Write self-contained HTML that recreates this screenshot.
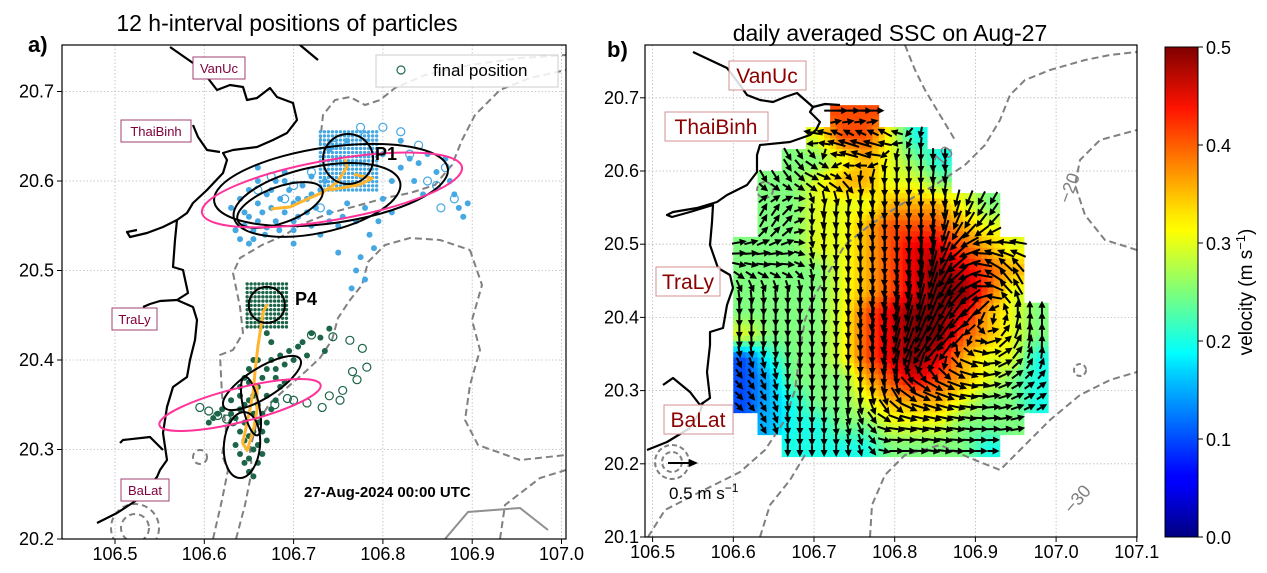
<!DOCTYPE html>
<html><head><meta charset="utf-8">
<style>
html,body{margin:0;padding:0;background:#fff;}
svg{display:block;font-family:"Liberation Sans","DejaVu Sans",sans-serif;}
</style></head>
<body>
<svg id="fig" width="1267" height="573" viewBox="0 0 1267 573" xmlns="http://www.w3.org/2000/svg">
<defs>
<clipPath id="clipA"><rect x="62" y="45" width="504" height="494"/></clipPath>
<clipPath id="clipB"><rect x="645" y="45" width="492" height="492"/></clipPath>
<linearGradient id="jet" x1="0" y1="1" x2="0" y2="0">
<stop offset="0" stop-color="#00007f"/><stop offset="0.11" stop-color="#0000ff"/>
<stop offset="0.125" stop-color="#0000ff"/><stop offset="0.34" stop-color="#00d5ff"/>
<stop offset="0.375" stop-color="#00ffff"/><stop offset="0.5" stop-color="#7dff7a"/>
<stop offset="0.625" stop-color="#ffff00"/><stop offset="0.66" stop-color="#ffe600"/>
<stop offset="0.875" stop-color="#ff1300"/><stop offset="1" stop-color="#7f0000"/>
</linearGradient>
</defs>
<rect width="1267" height="573" fill="#fff"/>

<text x="287" y="31" font-size="23" text-anchor="middle">12 h-interval positions of particles</text>
<text x="28" y="52" font-size="22" font-weight="bold">a)</text>
<text x="890" y="41" font-size="23" text-anchor="middle">daily averaged SSC on Aug-27</text>
<text x="607" y="57" font-size="22" font-weight="bold">b)</text>

<g id="gridA"></g>
<g id="gridB"></g>
<g id="plotA" clip-path="url(#clipA)"></g>
<g id="plotB" clip-path="url(#clipB)"></g>
<rect x="62" y="45" width="504" height="494" fill="none" stroke="#000" stroke-width="1.2"/>
<rect x="645" y="45" width="492" height="492" fill="none" stroke="#000" stroke-width="1.2"/>
<g id="ticksA"></g>
<g id="ticksB"></g>

<g id="legendA">
<rect x="376" y="55" width="182" height="32" fill="#fff" fill-opacity="0.85" stroke="#ccc"/>
<circle cx="401" cy="70" r="4" fill="none" stroke="#1e6b4e" stroke-width="1.2"/>
<text x="433" y="76" font-size="17">final position</text>
</g>
<text x="375" y="160" font-size="18" font-weight="bold">P1</text>
<text x="295" y="305" font-size="18" font-weight="bold">P4</text>
<text x="304" y="497" font-size="15" font-weight="bold">27-Aug-2024 00:00 UTC</text>

<g font-size="13" fill="#80003c">
<rect x="193" y="57" width="52" height="22" fill="#fff" stroke="#a04070"/>
<text x="219" y="73" text-anchor="middle" fill="#80003c">VanUc</text>
<rect x="121" y="120" width="70" height="22" fill="#fff" stroke="#a04070"/>
<text x="156" y="136" text-anchor="middle" fill="#80003c">ThaiBinh</text>
<rect x="112" y="308" width="45" height="22" fill="#fff" stroke="#a04070"/>
<text x="134.5" y="324" text-anchor="middle" fill="#80003c">TraLy</text>
<rect x="121" y="479" width="48" height="22" fill="#fff" stroke="#a04070"/>
<text x="145" y="495" text-anchor="middle" fill="#80003c">BaLat</text>
</g>

<g id="labelsB" font-size="21">
<rect x="729" y="61" width="77" height="29" fill="#fff" fill-opacity="0.85" stroke="#d09090"/>
<text x="767" y="83" text-anchor="middle" fill="#8b0000">VanUc</text>
<rect x="665" y="112" width="103" height="29" fill="#fff" fill-opacity="0.85" stroke="#d09090"/>
<text x="716" y="134" text-anchor="middle" fill="#8b0000">ThaiBinh</text>
<rect x="656" y="267" width="64" height="29" fill="#fff" fill-opacity="0.85" stroke="#d09090"/>
<text x="688" y="289" text-anchor="middle" fill="#8b0000">TraLy</text>
<rect x="664" y="405" width="69" height="29" fill="#fff" fill-opacity="0.85" stroke="#d09090"/>
<text x="698" y="427" text-anchor="middle" fill="#8b0000">BaLat</text>
</g>

<g>
<line x1="668" y1="463" x2="690" y2="463" stroke="#000" stroke-width="2"/>
<polygon points="698,463 689,459 689,467" fill="#000"/>
<text x="669" y="499" font-size="17">0.5 m s<tspan dy="-7" font-size="12">−1</tspan></text>
</g>

<g>
<rect x="1165" y="47" width="33" height="490" fill="url(#jet)" stroke="#000" stroke-width="1"/>
<g id="cbTicks"></g>
<text transform="translate(1252,292) rotate(-90)" font-size="19" text-anchor="middle">velocity (m s<tspan dy="-7" font-size="13">−1</tspan><tspan dy="7">)</tspan></text>
</g>
</svg>
<script>
const NS='http://www.w3.org/2000/svg';
const N=null;
// ---------- axis tick values ----------
const xTicksA=[106.5,106.6,106.7,106.8,106.9,107.0];
const yTicksA=[20.2,20.3,20.4,20.5,20.6,20.7];
const xTicksB=[106.5,106.6,106.7,106.8,106.9,107.0,107.1];
const yTicksB=[20.1,20.2,20.3,20.4,20.5,20.6,20.7];
const cbTicks=[0.0,0.1,0.2,0.3,0.4,0.5];
// ---------- panel b field data ----------
const fieldLon=[106.615,106.645,106.675,106.705,106.735,106.765,106.795,106.825,106.855,106.885,106.915,106.945,106.975,107.005];
const fieldLat=[20.675,20.645,20.615,20.585,20.555,20.525,20.495,20.465,20.435,20.405,20.375,20.345,20.315,20.285,20.255,20.225];
// speed codes: digit d => 0.05*d m/s, A => 0.5, '.' => no data
const speedRows=[
"....88........",
"...68864......",
"..5567654.....",
".55677665.....",
".5566677765...",
".5566788876...",
"555667899876..",
"55556789A987..",
"55556789AA86..",
"5555689AA9765.",
"6555689AA8765.",
"2455689A97664.",
"2355578987654.",
"2345567776554.",
".34455666555..",
"..444455554..."];
// current direction (degrees, 0=east, 90=north)
const dirRows=[
[N,N,N,N,0,0,N,N,N,N,N,N,N,N],
[N,N,N,170,160,165,150,-100,N,N,N,N,N,N],
[N,N,-60,-30,170,160,-90,-90,-90,N,N,N,N,N],
[N,-60,-50,-20,-20,-90,-90,-90,-100,N,N,N,N,N],
[N,60,40,-100,-90,-100,-90,-90,-90,-110,-120,N,N,N],
[N,60,45,-100,-95,-95,-90,-90,-100,-120,-135,N,N,N],
[10,15,10,-95,-90,-95,-90,-92,-100,-150,170,170,N,N],
[-20,-10,-10,-90,-95,-90,-92,-95,-110,-150,150,120,N,N],
[-80,-85,-90,-90,-92,-95,-95,-100,-110,-140,170,120,N,N],
[-90,-90,-90,-90,-92,-95,-100,-105,-115,-130,-120,80,90,N],
[-90,-90,-90,-90,-92,-95,-100,-110,-125,-150,10,60,90,N],
[-70,-80,-90,-90,-92,-90,-100,-120,-140,-30,-10,40,80,N],
[-50,-70,-90,-90,-90,-90,-100,-40,-30,-20,10,30,40,N],
[-45,-60,-90,-90,-90,-80,-60,-20,-20,-10,0,20,30,N],
[N,-60,-90,-90,-80,-60,-10,-10,-10,-10,0,10,N,N],
[N,N,-90,-90,-90,-70,0,0,-10,0,0,N,N,N]];
// ---------- panel a particle data (lon, lat) ----------
const p1FinalLon=[106.635,106.64,106.645,106.65,106.655,106.66,106.665,106.67,106.675,106.68,106.685,106.69,106.695,106.70,106.705,106.71,106.715,106.72,106.725,106.73,106.64,106.65,106.66,106.67,106.68,106.69,106.70,106.72,106.74,106.76,106.78,106.80,106.795,106.785,106.79,106.775,106.77,106.78,106.765,106.81,106.82,106.83,106.84,106.85,106.86,106.87,106.875,106.88,106.885,106.89,106.895,106.80,106.82,106.76,106.74,106.63,106.655,106.70,106.73,106.75,106.81,106.66,106.75,106.835,106.845,106.645,106.66,106.675,106.69,106.705,106.72,106.735,106.65,106.668,106.684,106.70,106.715,106.74,106.755,106.77];
const p1FinalLat=[20.545,20.535,20.55,20.56,20.545,20.555,20.565,20.548,20.57,20.555,20.58,20.565,20.59,20.575,20.56,20.595,20.58,20.605,20.57,20.59,20.58,20.59,20.60,20.585,20.6,20.61,20.545,20.55,20.565,20.575,20.57,20.58,20.555,20.54,20.525,20.515,20.50,20.49,20.48,20.60,20.615,20.625,20.62,20.63,20.61,20.625,20.60,20.585,20.57,20.56,20.575,20.63,20.645,20.645,20.635,20.57,20.535,20.53,20.54,20.55,20.565,20.615,20.52,20.60,20.585,20.565,20.575,20.59,20.6,20.58,20.585,20.6,20.53,20.54,20.545,20.555,20.565,20.555,20.56,20.555];
const p1OpenLon=[106.66,106.675,106.69,106.70,106.72,106.745,106.775,106.80,106.83,106.85,106.86,106.87,106.84,106.82,106.865,106.88,106.78,106.73];
const p1OpenLat=[20.59,20.605,20.58,20.595,20.61,20.64,20.66,20.66,20.63,20.60,20.595,20.615,20.64,20.655,20.57,20.58,20.65,20.57];
const p4FinalLon=[106.63,106.635,106.64,106.645,106.65,106.655,106.66,106.665,106.67,106.675,106.68,106.685,106.69,106.695,106.70,106.705,106.71,106.715,106.72,106.73,106.735,106.74,106.64,106.645,106.65,106.655,106.66,106.665,106.67,106.655,106.65,106.645,106.64,106.635,106.645,106.66,106.665,106.67,106.675,106.68,106.685,106.69,106.66,106.67,106.68,106.62,106.615,106.61,106.605,106.63,106.67,106.675,106.655,106.66,106.65,106.655,106.64,106.65,106.66,106.645,106.655,106.665,106.64,106.65];
const p4FinalLat=[20.34,20.335,20.345,20.35,20.355,20.36,20.37,20.38,20.39,20.40,20.39,20.405,20.395,20.41,20.40,20.415,20.42,20.405,20.43,20.425,20.41,20.435,20.37,20.38,20.39,20.34,20.33,20.32,20.31,20.30,20.29,20.285,20.295,20.305,20.31,20.285,20.295,20.33,20.345,20.355,20.37,20.375,20.35,20.36,20.38,20.345,20.34,20.335,20.33,20.355,20.43,20.42,20.40,20.40,20.275,20.27,20.32,20.315,20.305,20.33,20.32,20.34,20.36,20.375];
const p4OpenLon=[106.595,106.605,106.615,106.625,106.632,106.679,106.693,106.715,106.732,106.752,106.755,106.771,106.766,106.782,106.777,106.763,106.744,106.72,106.74,106.70];
const p4OpenLat=[20.347,20.343,20.338,20.334,20.331,20.35,20.357,20.352,20.347,20.355,20.366,20.378,20.387,20.392,20.413,20.422,20.426,20.428,20.36,20.355];
// trajectories
const p1TrackLon=[106.676,106.696,106.718,106.732,106.741,106.749,106.760,106.758];
const p1TrackLat=[20.569,20.571,20.581,20.587,20.593,20.599,20.616,20.623];
const p1BranchLon=[106.741,106.774,106.788,106.769];
const p1BranchLat=[20.590,20.596,20.603,20.607];
const p4TrackLon=[106.670,106.666,106.660,106.657,106.655,106.651,106.643,106.648,106.655,106.659,106.659,106.653];
const p4TrackLat=[20.461,20.454,20.415,20.389,20.366,20.344,20.307,20.299,20.322,20.344,20.370,20.374];
// dispersion ellipses
const ellLon=[106.761,106.6848,106.7262,106.7419,106.743,106.670,106.6646,106.6523,106.6422,106.640];
const ellLat=[20.6246,20.5732,20.5788,20.5955,20.590,20.4615,20.3743,20.3486,20.305,20.3497];
const ellA=[0.028,0.0504,0.0952,0.1321,0.1478,0.0202,0.0504,0.0336,0.037,0.093];
const ellB=[0.028,0.0202,0.037,0.0426,0.0336,0.0202,0.0168,0.009,0.0202,0.019];
const ellRot=[0,-20,-12,-8,-10,0,-32,78,95,-14];
const ellKind=['black','black','black','black','pink','black','black','black','black','pink'];

// ---------- scales ----------
const xA=lon=>115+(lon-106.5)*893;
const yA=lat=>539-(lat-20.2)*895;
const xB=lon=>652.6+(lon-106.5)*807;
const yB=lat=>537-(lat-20.1)*732;

function mk(tag,attrs,parent){const e=document.createElementNS(NS,tag);for(const k in attrs)e.setAttribute(k,attrs[k]);parent.appendChild(e);return e;}
function jet(t){t=Math.max(0,Math.min(1,t));const c=v=>Math.round(255*Math.max(0,Math.min(1,v)));
 return `rgb(${c(1.5-Math.abs(4*t-3))},${c(1.5-Math.abs(4*t-2))},${c(1.5-Math.abs(4*t-1))})`;}
function decode(ch){if(ch==='.')return null;if(ch==='A')return 0.5;return 0.05*parseInt(ch);}

// ---------- gridlines & ticks ----------
const gA=document.getElementById('gridA'),gB=document.getElementById('gridB');
const tA=document.getElementById('ticksA'),tB=document.getElementById('ticksB');
xTicksA.forEach(v=>{const x=xA(v);
 let l=mk('line',{x1:x,x2:x,y1:45,y2:539,stroke:'#bbb','stroke-width':0.8,'stroke-dasharray':'1.5,2'},gA);
 
 let k=mk('line',{x1:x,x2:x,y1:539,y2:544,stroke:'#000'},tA);
 
 let t=mk('text',{x:x,y:560,'font-size':18,'text-anchor':'middle'},tA);t.textContent=v.toFixed(1);
 });
yTicksA.forEach(v=>{const y=yA(v);
 let l=mk('line',{x1:62,x2:566,y1:y,y2:y,stroke:'#bbb','stroke-width':0.8,'stroke-dasharray':'1.5,2'},gA);
 
 let k=mk('line',{x1:57,x2:62,y1:y,y2:y,stroke:'#000'},tA);
 
 let t=mk('text',{x:54,y:y+6,'font-size':18,'text-anchor':'end'},tA);t.textContent=v.toFixed(1);
 });
xTicksB.forEach(v=>{const x=xB(v);
 let l=mk('line',{x1:x,x2:x,y1:45,y2:537,stroke:'#bbb','stroke-width':0.8,'stroke-dasharray':'1.5,2'},gB);
 
 let k=mk('line',{x1:x,x2:x,y1:537,y2:542,stroke:'#000'},tB);
 
 let t=mk('text',{x:x,y:558,'font-size':18,'text-anchor':'middle'},tB);t.textContent=v.toFixed(1);
 });
yTicksB.forEach(v=>{const y=yB(v);
 let l=mk('line',{x1:645,x2:1137,y1:y,y2:y,stroke:'#bbb','stroke-width':0.8,'stroke-dasharray':'1.5,2'},gB);
 
 let k=mk('line',{x1:640,x2:645,y1:y,y2:y,stroke:'#000'},tB);
 
 let t=mk('text',{x:639,y:y+6,'font-size':18,'text-anchor':'end'},tB);t.textContent=v.toFixed(1);
 });
const cbG=document.getElementById('cbTicks');
cbTicks.forEach(v=>{const y=537-(v/0.5)*490;
 let k=mk('line',{x1:1198,x2:1203,y1:y,y2:y,stroke:'#000'},cbG);
 
 let t=mk('text',{x:1206,y:y+7,'font-size':18},cbG);t.textContent=v.toFixed(1);
 });

// ---------- geography (decorative traces, panel pixel space) ----------
const coastA=[
[[170,47],[193,63],[207,77],[217,90],[230,85],[243,87],[247,100],[257,98],[270,88],[277,97],[293,103],[297,120],[287,133],[273,140],[257,147],[233,150],[223,153],[227,160],[223,173],[207,190],[193,203],[187,213],[177,220],[175,240],[173,267],[183,270],[188,293],[177,300],[193,307],[197,320],[195,340],[190,360],[187,377],[173,387],[167,407],[163,433],[167,460],[160,470],[157,477],[137,500],[117,513],[97,523]],
[[177,220],[163,227],[147,233],[130,237],[127,232],[137,230]],
[[177,300],[160,301],[150,304],[143,307]],
[[163,450],[150,437],[123,440],[120,443]],
[[193,125],[198,137],[207,150],[220,152]],
[[300,45],[312,55],[318,60]]];
const coastB=[
[[693,52],[710,60],[727,68],[740,85],[747,95],[760,100],[773,102],[785,97],[797,93],[805,100],[813,107],[825,104],[840,105]],
[[813,107],[810,112],[820,122],[816,130],[810,135],[790,142],[760,145],[757,155],[757,172],[747,185],[727,195],[717,202],[697,208],[673,212],[667,215],[672,217],[690,212],[713,205],[712,222],[710,245],[718,268],[730,275],[733,288],[727,305],[723,328],[710,332],[710,345],[707,372],[710,398],[700,405]],
[[700,405],[690,392],[673,378],[663,385]],
[[703,402],[700,412],[690,428],[667,442],[647,450]]];
const pA=document.getElementById('plotA'),pB=document.getElementById('plotB');
function drawPath(parent,pts,attrs,name){const d='M'+pts.map(p=>p[0].toFixed(1)+','+p[1].toFixed(1)).join(' L');
 const e=mk('path',Object.assign({d:d,fill:'none'},attrs),parent);
 return e;}

const contA=[
[[213,539],[222,500],[228,470],[222,455],[226,430],[222,395],[220,355],[233,350],[243,333],[240,307],[233,273],[240,258],[262,245],[285,235],[300,225],[330,213],[360,205],[385,198],[410,193],[435,185],[452,165],[462,140],[475,115],[500,90],[530,78],[566,70]],
[[236,539],[245,505],[252,470],[250,450],[256,425],[270,403],[290,385],[305,372],[320,358],[332,340],[338,318],[350,300],[362,285],[368,262],[385,245],[410,238],[440,240],[470,250]],
[[470,250],[482,285],[472,320],[480,350],[470,385],[465,420],[478,445],[520,460],[566,455]],
[[320,143],[323,115],[335,100],[350,97],[365,105],[380,100],[395,88],[425,75],[470,65],[520,58],[566,55]],
[[500,539],[505,505],[540,478],[566,470]]];
contA.forEach(c=>drawPath(pA,c,{stroke:'#808080','stroke-width':2,'stroke-dasharray':'7,4'},'depth-contour'));
drawPath(pA,[[445,539],[468,512],[520,508],[548,530]],{stroke:'#909090','stroke-width':2},'depth-contour-solid');
[[135,528,14],[135,528,24],[200,457,7]].forEach(c=>{const e=mk('circle',{cx:c[0],cy:c[1],r:c[2],fill:'none',stroke:'#808080','stroke-width':2,'stroke-dasharray':'6,4'},pA);
 });
coastA.forEach(tr=>drawPath(pA,tr,{stroke:'#000','stroke-width':2.2,'stroke-linejoin':'round'},'coastline'));

function seedGrid(lon0,lon1,lat0,lat1,n,m,color,name){
 for(let i=0;i<n;i++)for(let j=0;j<m;j++){
  const lon=lon0+(lon1-lon0)*i/(n-1),lat=lat0+(lat1-lat0)*j/(m-1);
  const c=mk('circle',{cx:xA(lon),cy:yA(lat),r:1.7,fill:color},pA);
  }}
const BLUE='#45a8e3',GREEN='#1c6548',ORANGE='#ffb52e';
seedGrid(106.730,106.793,20.590,20.655,15,15,BLUE,'p1-seed-particle');
seedGrid(106.648,106.692,20.437,20.485,11,11,GREEN,'p4-seed-particle');
p1FinalLon.forEach((lon,i)=>{const c=mk('circle',{cx:xA(lon),cy:yA(p1FinalLat[i]),r:3,fill:BLUE},pA);
 });
p1OpenLon.forEach((lon,i)=>{const c=mk('circle',{cx:xA(lon),cy:yA(p1OpenLat[i]),r:4,fill:'none',stroke:BLUE,'stroke-width':1.2},pA);
 });
p4FinalLon.forEach((lon,i)=>{const c=mk('circle',{cx:xA(lon),cy:yA(p4FinalLat[i]),r:3,fill:GREEN},pA);
 });
p4OpenLon.forEach((lon,i)=>{const c=mk('circle',{cx:xA(lon),cy:yA(p4OpenLat[i]),r:4,fill:'none',stroke:GREEN,'stroke-width':1.2},pA);
 });
function track(lons,lats,name){drawPath(pA,lons.map((l,i)=>[xA(l),yA(lats[i])]),{stroke:ORANGE,'stroke-width':3,'stroke-linejoin':'round','stroke-linecap':'round'},name);}
track(p1TrackLon,p1TrackLat,'p1-centroid-track');
track(p1BranchLon,p1BranchLat,'p1-centroid-track-branch');
track(p4TrackLon,p4TrackLat,'p4-centroid-track');
ellLon.forEach((lon,i)=>{const cx=xA(lon),cy=yA(ellLat[i]);
 const e=mk('ellipse',{cx:cx,cy:cy,rx:ellA[i]*893,ry:ellB[i]*893,transform:`rotate(${ellRot[i]} ${cx} ${cy})`,fill:'none',
  stroke:ellKind[i]==='pink'?'#ff3399':'#000','stroke-width':2},pA);
 
 });

// ---------- panel b field ----------
const NI=fieldLon.length,NJ=fieldLat.length;
const S=speedRows.map(r=>r.split('').map(decode));
const U=S.map((r,j)=>r.map((s,i)=>(s===null||dirRows[j][i]===null)?null:s*Math.cos(dirRows[j][i]*Math.PI/180)));
const V=S.map((r,j)=>r.map((s,i)=>(s===null||dirRows[j][i]===null)?null:s*Math.sin(dirRows[j][i]*Math.PI/180)));
const dLon=fieldLon[1]-fieldLon[0],dLat=fieldLat[0]-fieldLat[1];
function interp(G,lon,lat){
 const fi=(lon-fieldLon[0])/dLon,fj=(fieldLat[0]-lat)/dLat;
 const i0=Math.floor(fi),j0=Math.floor(fj),ti=fi-i0,tj=fj-j0;
 let sum=0,w=0;
 [[0,0],[1,0],[0,1],[1,1]].forEach(o=>{const i=i0+o[0],j=j0+o[1];
  if(i<0||j<0||i>=NI||j>=NJ)return;const v=G[j][i];if(v===null)return;
  const ww=(o[0]?ti:1-ti)*(o[1]?tj:1-tj)+1e-6;sum+=v*ww;w+=ww;});
 return w>0?sum/w:null;}
const SUB=4,cw=dLon*807,chh=dLat*732;
for(let j=0;j<NJ;j++)for(let i=0;i<NI;i++){if(S[j][i]===null)continue;
 for(let a=0;a<SUB;a++)for(let b=0;b<SUB;b++){
  const lon=fieldLon[i]-dLon/2+dLon*(a+0.5)/SUB,lat=fieldLat[j]+dLat/2-dLat*(b+0.5)/SUB;
  const s=interp(S,lon,lat);
  const r=mk('rect',{x:xB(lon)-cw/SUB/2,y:yB(lat)-chh/SUB/2,width:cw/SUB+0.6,height:chh/SUB+0.6,fill:jet(s/0.5)},pB);
  
  }}
const contB=[
[[648,537],[665,510],[700,492],[740,472],[765,450],[785,420],[795,390],[800,350],[805,320],[815,295],[830,270],[845,245],[870,225],[900,205],[935,185],[965,165],[985,145],[1000,120],[1010,95],[1025,80],[1050,70],[1085,60],[1110,55],[1137,52]],
[[870,537],[872,505],[885,475],[905,455],[940,445],[970,458],[1000,470],[1020,450],[1050,420],[1080,395],[1110,380],[1137,372]],
[[1137,250],[1105,240],[1085,215],[1075,185],[1080,160],[1100,140],[1137,130]],
[[905,45],[915,70],[925,90],[940,115],[955,140]],
[[760,537],[770,505],[790,480],[805,455]]];
contB.forEach(c=>drawPath(pB,c,{stroke:'#808080','stroke-width':2,'stroke-dasharray':'7,4'},'depth-contour'));
[[1080,370,6],[765,190,8],[672,462,10],[672,462,17]].forEach(c=>{const e=mk('circle',{cx:c[0],cy:c[1],r:c[2],fill:'none',stroke:'#808080','stroke-width':2,'stroke-dasharray':'5,3'},pB);
 });
coastB.forEach(tr=>drawPath(pB,tr,{stroke:'#000','stroke-width':2.2,'stroke-linejoin':'round'},'coastline'));
[['−20',1075,190,-70],['−30',1082,503,-50],['10',948,160,-50]].forEach(l=>{
 const t=mk('text',{x:l[1],y:l[2],'font-size':18,fill:'#808080','text-anchor':'middle',transform:`rotate(${l[3]} ${l[1]} ${l[2]})`},pB);
 t.textContent=l[0];});
// arrows on 2x2 sub-grid per cell
const AS=2;
for(let j=0;j<NJ;j++)for(let i=0;i<NI;i++){if(U[j][i]===null)continue;
 for(let a=0;a<AS;a++)for(let b=0;b<AS;b++){
  const lon=fieldLon[i]-dLon/2+dLon*(a+0.5)/AS,lat=fieldLat[j]+dLat/2-dLat*(b+0.5)/AS;
  const u=interp(U,lon,lat),v=interp(V,lon,lat);if(u===null||v===null)continue;
  const mag=Math.hypot(u,v);if(mag<1e-4)continue;
  const L=Math.max(12,mag*60),dx=u/mag,dy=-v/mag,cx=xB(lon),cy=yB(lat);
  const x0=cx-dx*L/2,y0=cy-dy*L/2,x1=cx+dx*L/2,y1=cy+dy*L/2,hx=x1-dx*7,hy=y1-dy*7;
  const g=mk('g',{},pB);
  
  
  mk('line',{x1:x0,y1:y0,x2:hx,y2:hy,stroke:'#000','stroke-width':2},g);
  mk('polygon',{points:`${x1},${y1} ${hx-dy*3.5},${hy+dx*3.5} ${hx+dy*3.5},${hy-dx*3.5}`,fill:'#000'},g);
 }}
const fig=document.getElementById('fig');
fig.appendChild(document.getElementById('labelsB'));
fig.appendChild(document.getElementById('legendA'));
</script>
</body></html>
